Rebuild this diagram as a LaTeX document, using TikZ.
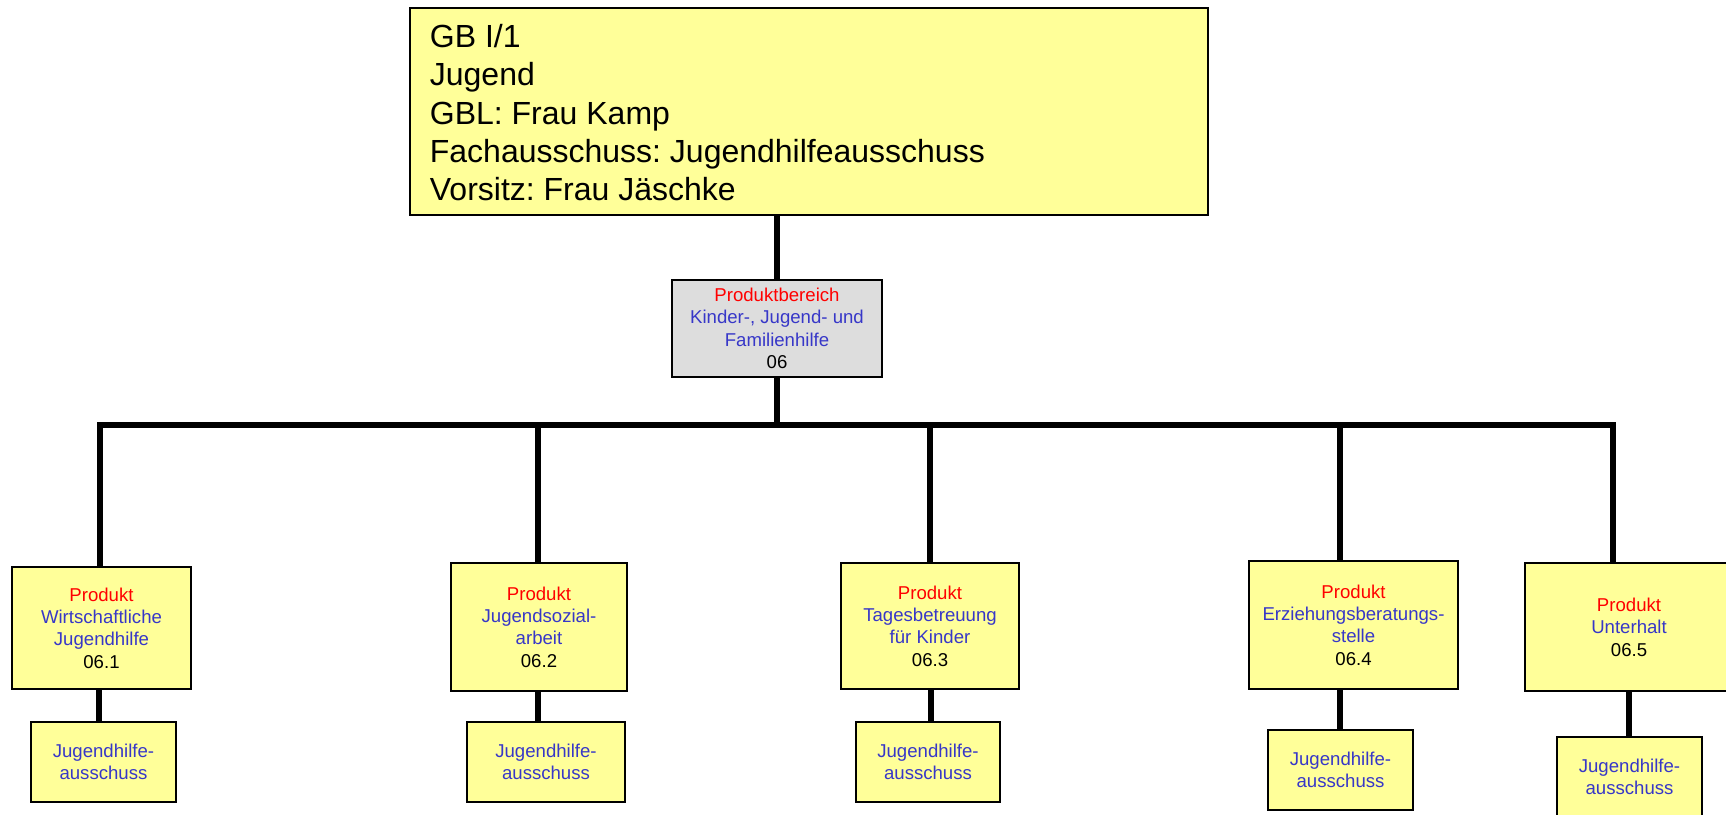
\documentclass[tikz,border=0pt]{standalone}
\usepackage{fontspec}
\setmainfont{Liberation Sans}
\frenchspacing
\definecolor{boxyellow}{RGB}{255,255,153}
\definecolor{boxgray}{RGB}{221,221,221}
\definecolor{txtblue}{RGB}{55,55,200}
\definecolor{txtred}{RGB}{255,0,0}
\newcommand{\redt}[1]{\textcolor{txtred}{#1}}
\newcommand{\bluet}[1]{\textcolor{txtblue}{#1}}
\tikzset{
  box/.style={draw=black, line width=1.8pt, fill=boxyellow, inner sep=0pt,
    align=center, font=\fontsize{18.6}{22.4}\selectfont},
  graybox/.style={box, fill=boxgray},
  topbox/.style={draw=black, line width=1.8pt, fill=boxyellow, inner xsep=20pt,
    inner ysep=0pt, font=\fontsize{32}{38.3}\selectfont},
  conn/.style={line width=6pt, line join=miter, line cap=butt},
}
\begin{document}
\begin{tikzpicture}[x=1pt,y=-1pt]
\useasboundingbox (0,0) rectangle (1726,814);
\clip (0,0) rectangle (1726,814);

% top box
\node[topbox, anchor=north west] (top) at (409,7)
  {\parbox[t][207pt][t]{758pt}{\vspace*{12.9pt}\strut GB I/1\\
   \strut Jugend\\
   \strut GBL: Frau Kamp\\
   \strut Fachausschuss: Jugendhilfeausschuss\\
   \strut Vorsitz: Frau Jäschke}};

% product area
\node[graybox, minimum width=210pt, minimum height=97pt] (pb) at (777,328.5)
  {\redt{Produktbereich}\\ \bluet{Kinder-, Jugend- und}\\ \bluet{Familienhilfe}\\ 06};

% products
\node[box, minimum width=179pt, minimum height=122pt] (p1) at (101.5,628)
  {\redt{Produkt}\\ \bluet{Wirtschaftliche}\\ \bluet{Jugendhilfe}\\ 06.1};
\node[box, minimum width=176pt, minimum height=128pt] (p2) at (539,627)
  {\redt{Produkt}\\ \bluet{Jugendsozial-}\\ \bluet{arbeit}\\ 06.2};
\node[box, minimum width=178pt, minimum height=126pt] (p3) at (930,626)
  {\redt{Produkt}\\ \bluet{Tagesbetreuung}\\ \bluet{für Kinder}\\ 06.3};
\node[box, minimum width=209pt, minimum height=128pt] (p4) at (1353.5,625)
  {\redt{Produkt}\\ \bluet{Erziehungsberatungs-}\\ \bluet{stelle}\\ 06.4};
\node[box, minimum width=208pt, minimum height=128pt] (p5) at (1629,627)
  {\redt{Produkt}\\ \bluet{Unterhalt}\\ 06.5};

% committees
\node[box, minimum width=145pt, minimum height=80pt] (s1) at (103.5,762)
  {\bluet{Jugendhilfe-}\\ \bluet{ausschuss}};
\node[box, minimum width=158pt, minimum height=80pt] (s2) at (546,762)
  {\bluet{Jugendhilfe-}\\ \bluet{ausschuss}};
\node[box, minimum width=144pt, minimum height=80pt] (s3) at (928,762)
  {\bluet{Jugendhilfe-}\\ \bluet{ausschuss}};
\node[box, minimum width=145pt, minimum height=80pt] (s4) at (1340.5,770)
  {\bluet{Jugendhilfe-}\\ \bluet{ausschuss}};
\node[box, minimum width=145pt, minimum height=80pt] (s5) at (1629.5,777)
  {\bluet{Jugendhilfe-}\\ \bluet{ausschuss}};

% bus coordinates
\coordinate (bus) at (777,425);
\coordinate (j1) at (100,425);
\coordinate (j2) at (538,425);
\coordinate (j3) at (930,425);
\coordinate (j4) at (1340,425);
\coordinate (j5) at (1613,425);
\coordinate (k1) at (99,0);
\coordinate (k2) at (538,0);
\coordinate (k3) at (931,0);
\coordinate (k4) at (1340,0);
\coordinate (k5) at (1629,0);

% connectors
\draw[conn] (pb.north |- top.south) -- (pb.north);
\draw[conn] (pb.south) -- (bus);
\draw[conn] (p1.north -| j1) -- (j1) -- (j5) -- (p5.north -| j5);
\draw[conn] (j2) -- (p2.north -| j2);
\draw[conn] (j3) -- (p3.north -| j3);
\draw[conn] (j4) -- (p4.north -| j4);

\draw[conn] (p1.south -| k1) -- (s1.north -| k1);
\draw[conn] (p2.south -| k2) -- (s2.north -| k2);
\draw[conn] (p3.south -| k3) -- (s3.north -| k3);
\draw[conn] (p4.south -| k4) -- (s4.north -| k4);
\draw[conn] (p5.south -| k5) -- (s5.north -| k5);
\end{tikzpicture}
\end{document}
